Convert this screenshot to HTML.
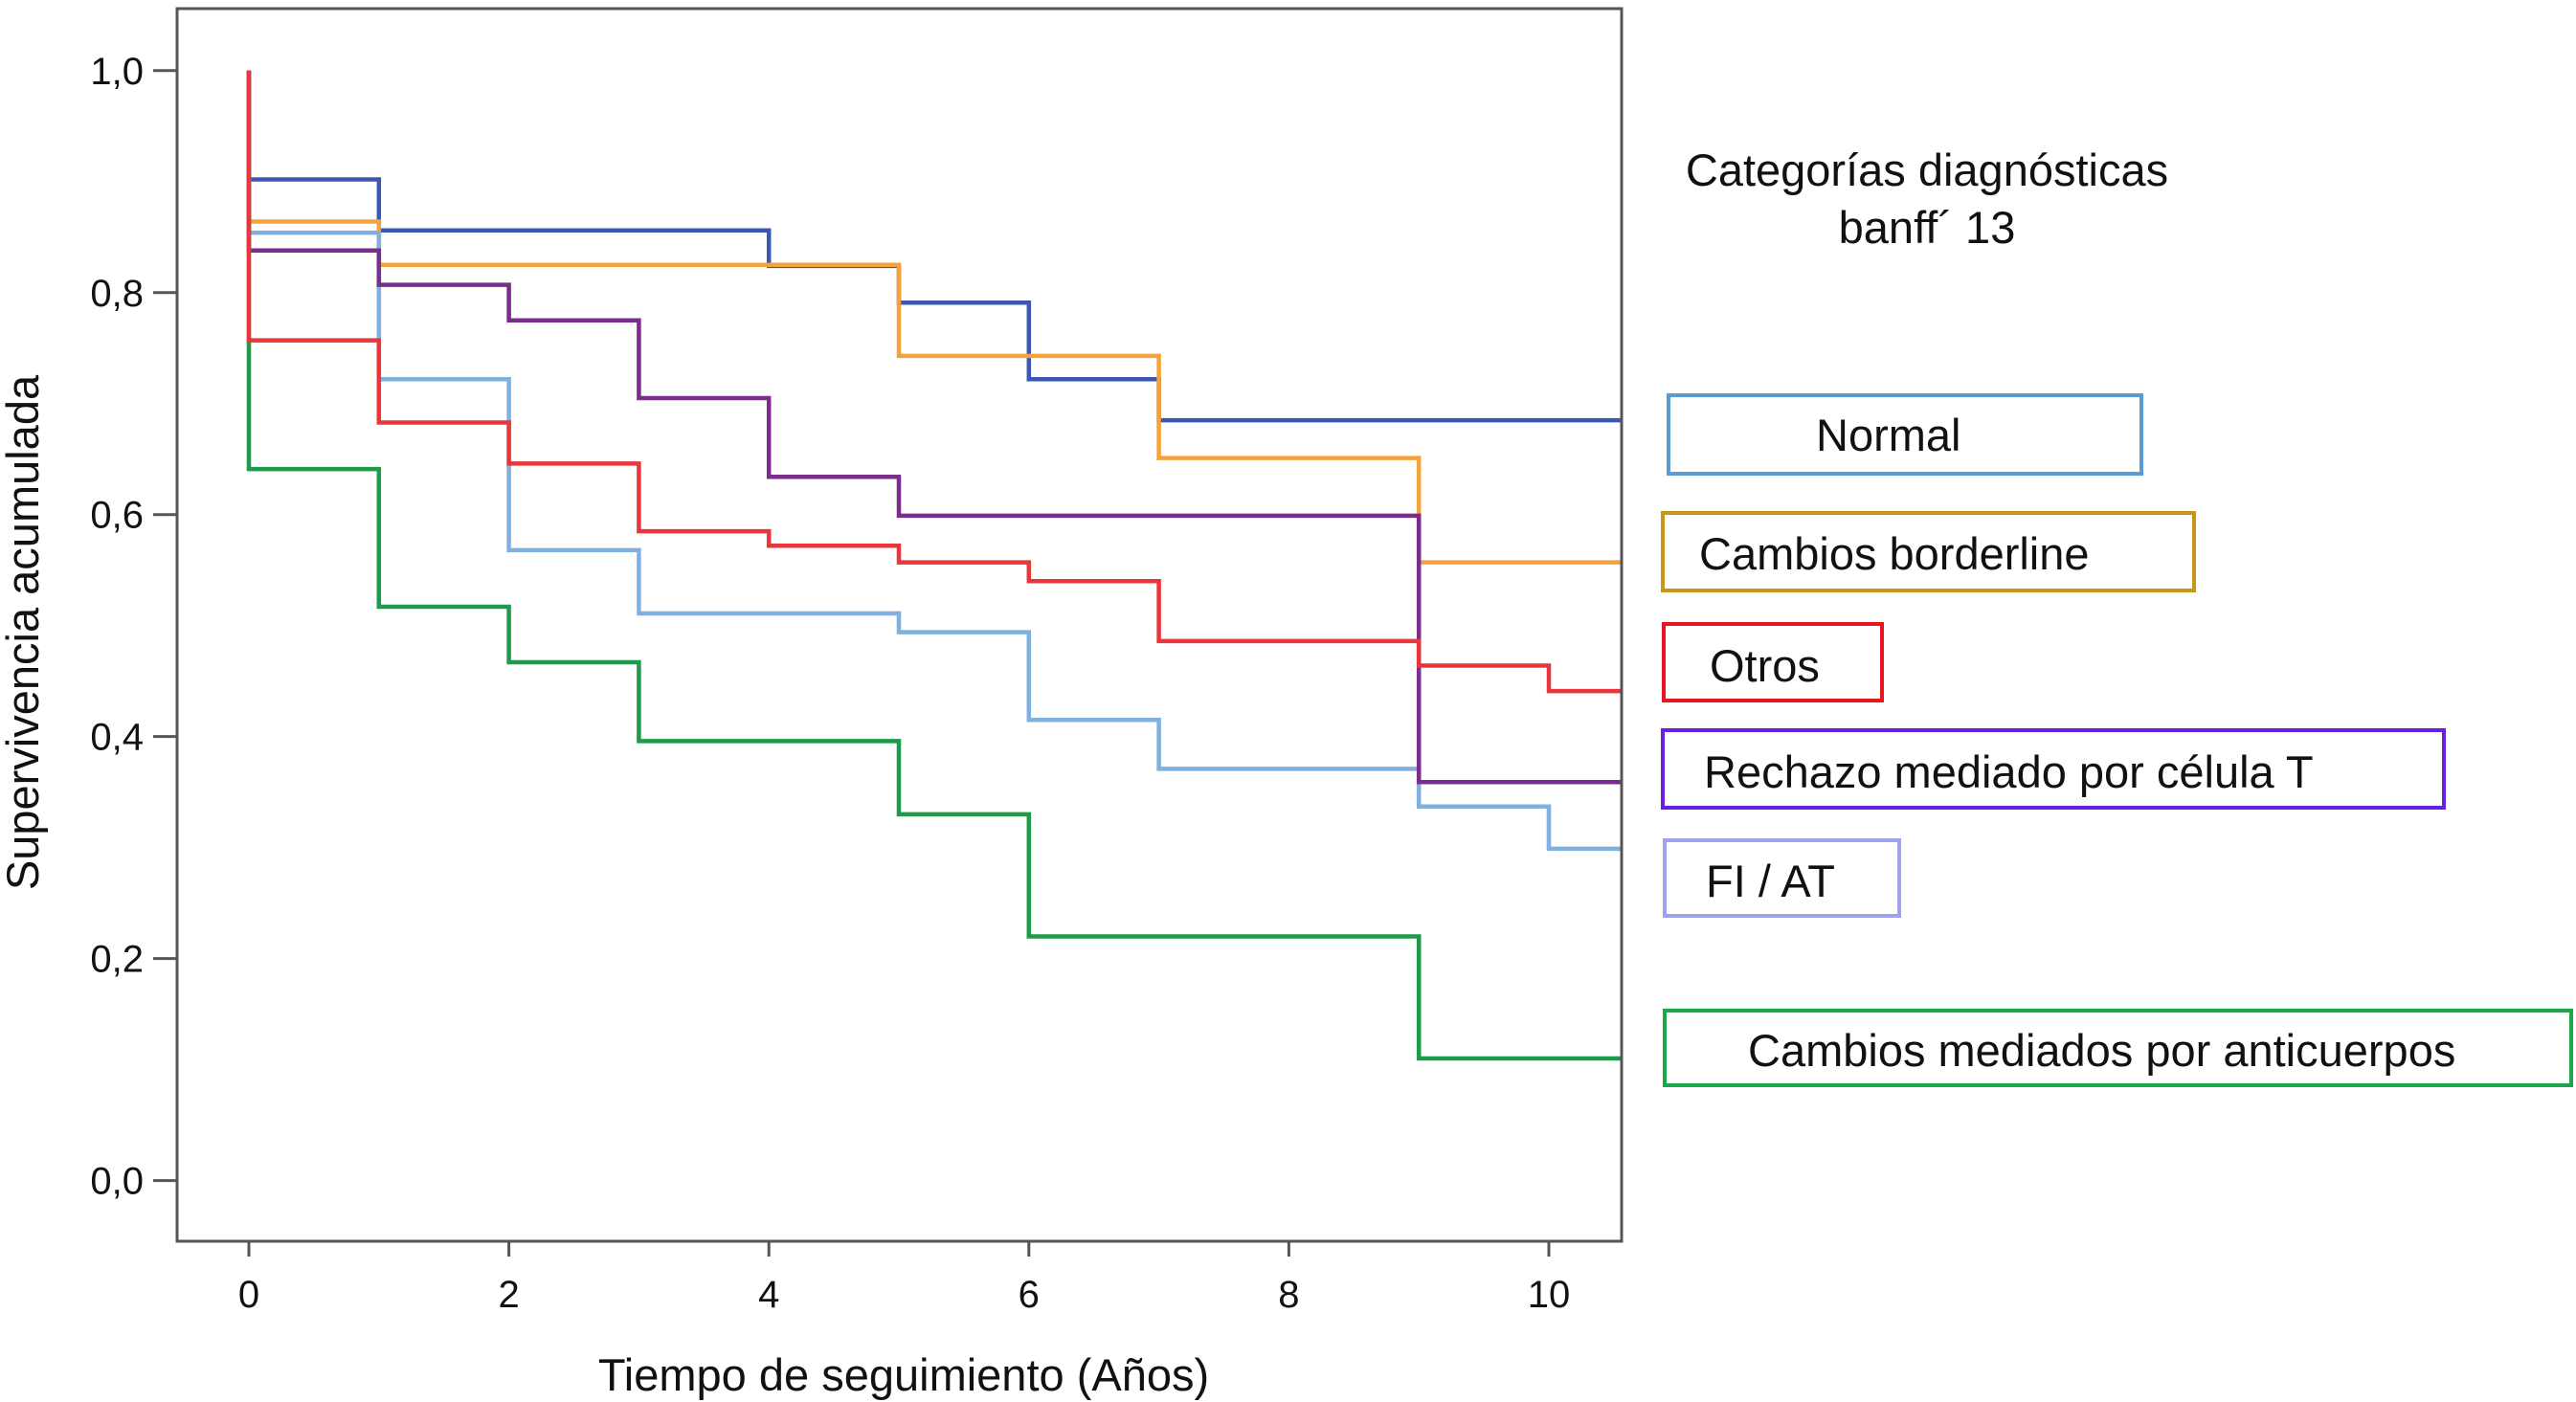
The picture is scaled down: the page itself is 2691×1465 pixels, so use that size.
<!DOCTYPE html>
<html><head><meta charset="utf-8">
<style>
html,body{margin:0;padding:0;background:#fff;}
svg{display:block;font-family:"Liberation Sans",sans-serif;}
</style></head>
<body>
<svg id="chart" width="2691" height="1465" viewBox="0 0 2691 1465">
  <rect x="0" y="0" width="2691" height="1465" fill="#fff"/>
  <g id="marks"></g>
  <rect x="185" y="9" width="1509" height="1288" fill="none" stroke="#555" stroke-width="3"/>
  <g id="axes"></g>
  <text x="944" y="1453" font-size="47" text-anchor="middle" fill="#111">Tiempo de seguimiento (Años)</text>
  <text transform="translate(40,661) rotate(-90)" font-size="47" text-anchor="middle" fill="#111">Supervivencia acumulada</text>
  <text x="2013" y="194" font-size="47" text-anchor="middle" fill="#111">Categorías diagnósticas</text>
  <text x="2013" y="254" font-size="47" text-anchor="middle" fill="#111">banff´ 13</text>
  <g><rect x="1743" y="413" width="494" height="82" fill="none" stroke="#5b9bd5" stroke-width="4"/><text x="1897" y="471" font-size="47" fill="#111">Normal</text></g>
  <g><rect x="1737" y="536" width="555" height="81" fill="none" stroke="#c8961e" stroke-width="4"/><text x="1775" y="595" font-size="47" fill="#111">Cambios borderline</text></g>
  <g><rect x="1738" y="652" width="228" height="80" fill="none" stroke="#e8141e" stroke-width="4"/><text x="1786" y="712" font-size="47" fill="#111">Otros</text></g>
  <g><rect x="1737" y="763" width="816" height="81" fill="none" stroke="#6a1fe0" stroke-width="4"/><text x="1780" y="823" font-size="47" fill="#111">Rechazo mediado por célula T</text></g>
  <g><rect x="1739" y="878" width="245" height="79" fill="none" stroke="#a0a0f0" stroke-width="4"/><text x="1782" y="937" font-size="47" fill="#111">FI / AT</text></g>
  <g><rect x="1739" y="1056" width="947" height="78" fill="none" stroke="#1aa84a" stroke-width="4"/><text x="1826" y="1114" font-size="47" fill="#111">Cambios mediados por anticuerpos</text></g>
</svg>
<script>
const xTicks = [0, 2, 4, 6, 8, 10];
const yTicks = [0, 0.2, 0.4, 0.6, 0.8, 1.0];
const yTickLabels = ["0,0", "0,2", "0,4", "0,6", "0,8", "1,0"];
const seriesNames = ["normal", "borderline", "otros", "rechazo-t", "fi-at", "anticuerpos"];
const normalTimes = [0, 1, 4, 5, 6, 7];
const normalVals = [0.902, 0.856, 0.824, 0.791, 0.722, 0.685];
const borderlineTimes = [0, 1, 5, 7, 9];
const borderlineVals = [0.864, 0.825, 0.743, 0.651, 0.557];
const otrosTimes = [0, 1, 2, 3, 4, 5, 6, 7, 9, 10];
const otrosVals = [0.757, 0.683, 0.646, 0.585, 0.572, 0.557, 0.540, 0.486, 0.464, 0.441];
const rechazoTimes = [0, 1, 2, 3, 4, 5, 9];
const rechazoVals = [0.838, 0.807, 0.775, 0.705, 0.634, 0.599, 0.359];
const fiatTimes = [0, 1, 2, 3, 5, 6, 7, 9, 10];
const fiatVals = [0.854, 0.722, 0.568, 0.511, 0.494, 0.415, 0.371, 0.337, 0.299];
const anticTimes = [0, 1, 2, 3, 5, 6, 9];
const anticVals = [0.641, 0.517, 0.467, 0.396, 0.330, 0.220, 0.110];
const tEnd = 10.56;

const NS = "http://www.w3.org/2000/svg";
const xs = t => 260 + t * 135.8;
const ys = v => 1233.6 - v * 1159.8;
const marks = document.getElementById('marks');
const axes = document.getElementById('axes');

function mk(tag, attrs, parent) {
  const e = document.createElementNS(NS, tag);
  for (const k in attrs) e.setAttribute(k, attrs[k]);
  parent.appendChild(e);
  return e;
}

xTicks.forEach(t => {
  const l = mk('line', {x1: xs(t), x2: xs(t), y1: 1297, y2: 1313, stroke: '#555', 'stroke-width': 3}, axes);
  
  
  const tx = mk('text', {x: xs(t), y: 1366, 'font-size': 40, 'text-anchor': 'middle', fill: '#111'}, axes);
  tx.textContent = String(t);
  
  
});
yTicks.forEach((v, i) => {
  const l = mk('line', {x1: 160, x2: 185, y1: ys(v), y2: ys(v), stroke: '#555', 'stroke-width': 3}, axes);
  
  
  const tx = mk('text', {x: 150, y: ys(v) + 14, 'font-size': 40, 'text-anchor': 'end', fill: '#111'}, axes);
  tx.textContent = yTickLabels[i];
  
  
});

const series = [
  [normalTimes, normalVals, '#3a58b0'],
  [borderlineTimes, borderlineVals, '#f5a23a'],
  [fiatTimes, fiatVals, '#7fb0e0'],
  [rechazoTimes, rechazoVals, '#7b2d8e'],
  [anticTimes, anticVals, '#1f9a4a'],
  [otrosTimes, otrosVals, '#e8363c']
];
const names = ["normal", "borderline", "fi-at", "rechazo-t", "anticuerpos", "otros"];
series.forEach((s, idx) => {
  const [ts, vs, c] = s;
  let d = 'M' + xs(0) + ' ' + ys(1.0);
  for (let i = 0; i < ts.length; i++) {
    d += ' V' + ys(vs[i]);
    const next = i + 1 < ts.length ? ts[i + 1] : tEnd;
    d += ' H' + xs(next);
  }
  const p = mk('path', {d: d, fill: 'none', stroke: c, 'stroke-width': 4.5}, marks);
  
  
});
</script>
</body></html>
